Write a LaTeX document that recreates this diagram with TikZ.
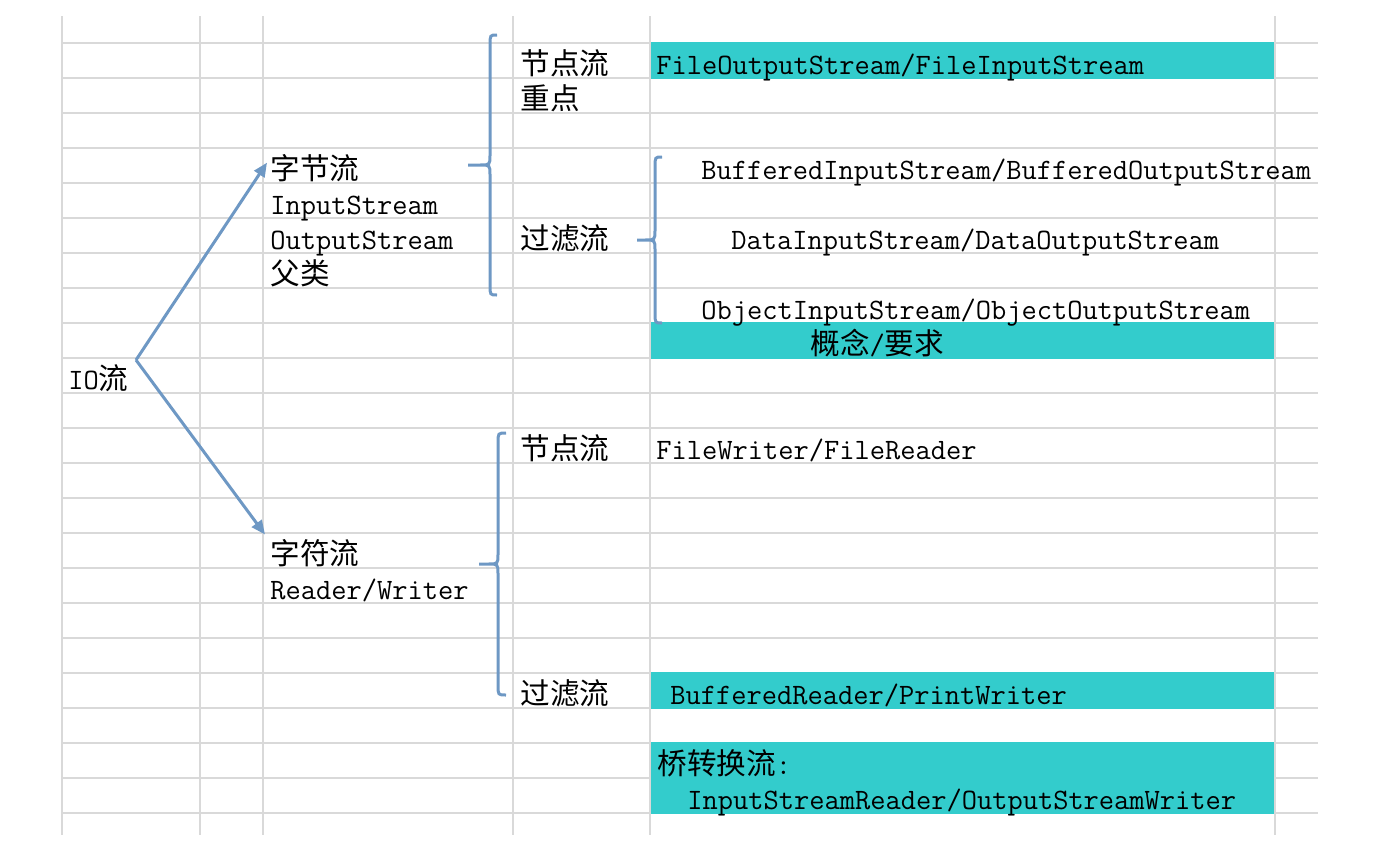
\documentclass[tikz,border=0pt]{standalone}
\usepackage{fontspec}
\newfontfamily\cjk{Noto Sans CJK SC}
\definecolor{gridGray}{RGB}{217,217,217}
\definecolor{bandTeal}{RGB}{51,204,204}
\definecolor{linkBlue}{RGB}{110,152,196}
\usetikzlibrary{arrows.meta}

\begin{document}
\begin{tikzpicture}[x=0.5pt,y=-0.5pt,
        cell/.style={draw=gridGray,line width=1pt},
        band/.style={fill=bandTeal},
        txt/.style={anchor=base west,inner sep=0pt,font=\fontsize{14.8}{17}\selectfont\ttfamily},
        link/.style={draw=linkBlue,line width=1.5pt,-{Triangle[length=7pt,width=6pt]}},
        curly/.style={draw=linkBlue,line width=1.5pt}
    ]
        \useasboundingbox (0,0) rectangle (1377,862);

        % sheet grid
        \foreach \k in {0,...,22}
            \draw[cell] (62,{43+35*\k}) -- (1318,{43+35*\k});
        \foreach \x in {62,200,263,513,650,1275}
            \draw[cell] (\x,16) -- (\x,835);

        % highlighted cells
        \fill[band] (651,42) rectangle (1274,79);
        \fill[band] (651,322) rectangle (1274,359);
        \fill[band] (651,672) rectangle (1274,709);
        \fill[band] (651,742) rectangle (1274,814);

        % root
        \node[txt] (io) at (68,389) {IO{\cjk 流}};
        \coordinate (split) at (136,360);

        % byte streams
        \node[txt] (zjl) at (270,179) {\cjk 字节流};
        \node[txt] (ins) at (270,214) {InputStream};
        \node[txt] (outs) at (270,249) {OutputStream};
        \node[txt] (fl) at (270,284) {\cjk 父类};

        \node[txt] (jdl1) at (520,74) {\cjk 节点流};
        \node[txt] (zd) at (520,109) {\cjk 重点};
        \node[txt] (gll1) at (520,249) {\cjk 过滤流};

        \node[txt] (fos) at (656,74) {FileOutputStream/FileInputStream};
        \node[txt] (bis) at (701,179) {BufferedInputStream/BufferedOutputStream};
        \node[txt] (dis) at (731,249) {DataInputStream/DataOutputStream};
        \node[txt] (ois) at (701,319) {ObjectInputStream/ObjectOutputStream};
        \node[txt] (gn) at (810,354) {{\cjk 概念}/{\cjk 要求}};

        % char streams
        \node[txt] (zfl) at (270,564) {\cjk 字符流};
        \node[txt] (rw) at (270,599) {Reader/Writer};

        \node[txt] (jdl2) at (520,459) {\cjk 节点流};
        \node[txt] (gll2) at (520,704) {\cjk 过滤流};

        \node[txt] (fw) at (656,459) {FileWriter/FileReader};
        \node[txt] (br) at (670,704) {BufferedReader/PrintWriter};
        \node[txt] (qzh) at (657,774) {{\cjk 桥转换流}:};
        \node[txt] (isr) at (687,809) {InputStreamReader/OutputStreamWriter};

        % arrows
        \draw[link] (split) -- ([shift={(-3,-5)}]zjl.west);
        \draw[link] (split) -- ([shift={(-5,-4)}]zfl.north west);

        % braces
        \draw[curly] (497,35) .. controls (490,35) .. (490,45) -- (490,155)
            .. controls (490,165) .. (480,165) -- (468,165)
            (480,165) .. controls (490,165) .. (490,175) -- (490,285)
            .. controls (490,295) .. (497,295);
        \draw[curly] (662,157) .. controls (655,157) .. (655,167) -- (655,230)
            .. controls (655,240) .. (645,240) -- (637,240)
            (645,240) .. controls (655,240) .. (655,250) -- (655,313)
            .. controls (655,323) .. (662,323);
        \draw[curly] (506,433) .. controls (498,433) .. (498,443) -- (498,554)
            .. controls (498,564) .. (488,564) -- (479,564)
            (488,564) .. controls (498,564) .. (498,574) -- (498,685)
            .. controls (498,695) .. (506,695);

    \end{tikzpicture}
\end{document}
